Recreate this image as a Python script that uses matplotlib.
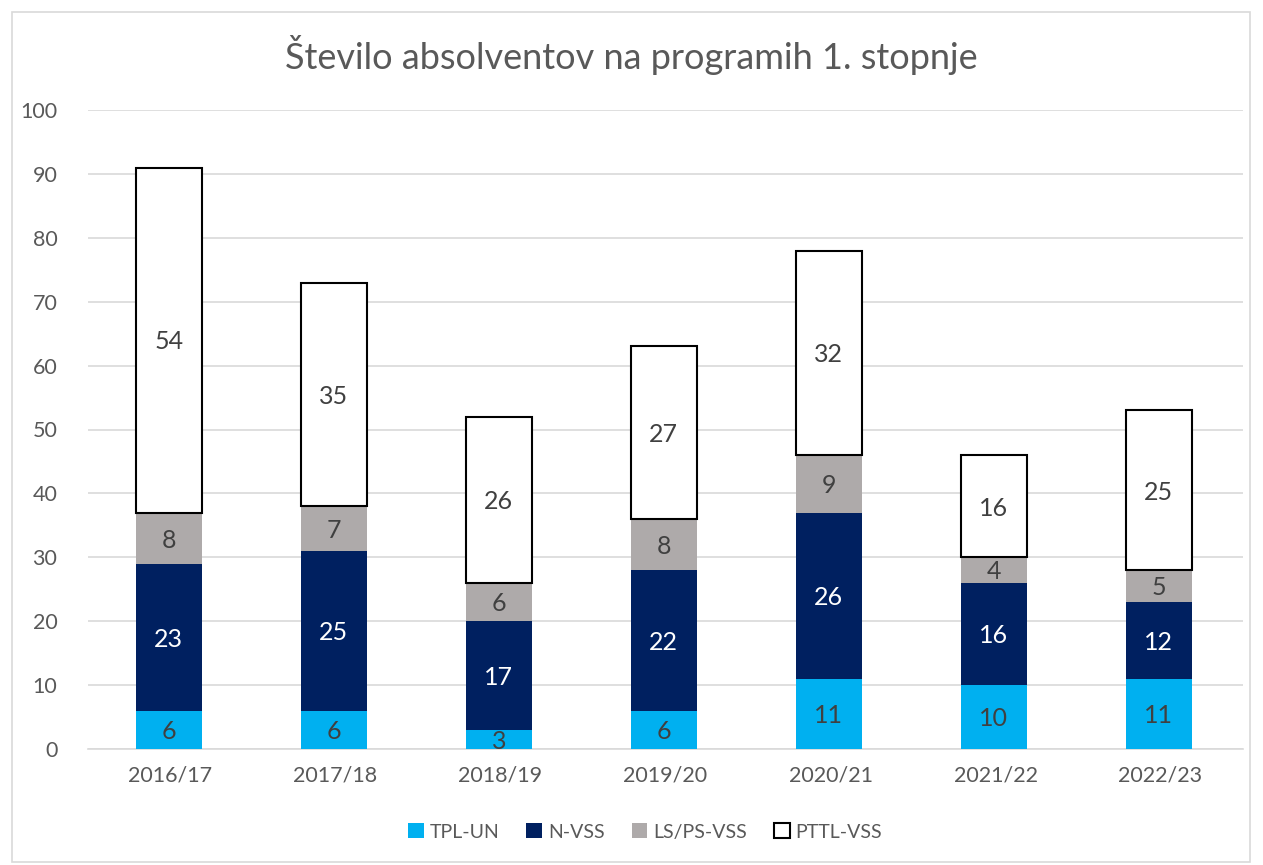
import matplotlib
matplotlib.use("Agg")
import matplotlib.pyplot as plt
from matplotlib.patches import Rectangle, Patch

categories = ["2016/17", "2017/18", "2018/19", "2019/20", "2020/21", "2021/22", "2022/23"]
tpl_un = [6, 6, 3, 6, 11, 10, 11]
n_vss = [23, 25, 17, 22, 26, 16, 12]
ls_ps_vss = [8, 7, 6, 8, 9, 4, 5]
pttl_vss = [54, 35, 26, 27, 32, 16, 25]
series_names = ["TPL-UN", "N-VSS", "LS/PS-VSS", "PTTL-VSS"]

plt.rcParams['font.family'] = ['Lato', 'DejaVu Sans']

W, H = 1263, 865
fig = plt.figure(figsize=(W / 100, H / 100), dpi=100)
fig.patch.set_facecolor('white')
fig.add_artist(Rectangle((12 / W, 1 - 862 / H), (1250 - 12) / W, (862 - 12) / H,
                         transform=fig.transFigure, fill=False, edgecolor='#D9D9D9', lw=1.2))

ax = fig.add_axes([88 / W, 1 - 749 / H, (1243 - 88) / W, (749 - 110) / H])
x = list(range(len(categories)))
bw = 0.4
series = [tpl_un, n_vss, ls_ps_vss, pttl_vss]
colors = ['#00B0F0', '#002060', '#AEAAAA', 'white']
edges = ['none', 'none', 'none', 'black']
txtc = ['#404040', 'white', '#404040', '#404040']
bottom = [0] * len(categories)
for s, c, e, tc, name in zip(series, colors, edges, txtc, series_names):
    ax.bar([xi - 0.01 for xi in x], s, bw, bottom=bottom, color=c, edgecolor=e,
           linewidth=1.5 if e != 'none' else 0, label=name, zorder=3)
    for xi, b, v in zip(x, bottom, s):
        ax.text(xi - 0.01, b + v / 2 - 0.3, str(v), ha='center', va='center', fontsize=18,
                color=tc, zorder=4)
    bottom = [b + v for b, v in zip(bottom, s)]

ax.set_xlim(-0.5, 6.5)
ax.set_ylim(0, 100)
ax.set_yticks(range(0, 101, 10))
ax.set_xticks(x)
ax.set_xticklabels(categories)
ax.tick_params(axis='both', length=0, labelsize=15.5, colors='#595959')
ax.tick_params(axis='y', pad=22)
ax.tick_params(axis='x', pad=12)
ax.grid(axis='y', color='#D9D9D9', lw=1.2, zorder=0)
for sp in ['top', 'right', 'left']:
    ax.spines[sp].set_visible(False)
ax.spines['bottom'].set_color('#D9D9D9')
ax.spines['bottom'].set_linewidth(1.2)

fig.text(0.5, 1 - 55 / H, "Število absolventov na programih 1. stopnje", ha='center', va='center',
         fontsize=26, color='#595959')

handles = [Patch(facecolor=c, edgecolor=('black' if e == 'black' else c), lw=1.5 if e == 'black' else 0)
           for c, e in zip(colors, edges)]
fig.legend(handles, series_names, loc='center', bbox_to_anchor=(645 / W, 1 - 832 / H), ncol=4,
           frameon=False, fontsize=14, labelcolor='#595959', handlelength=0.8, handleheight=0.8,
           handletextpad=0.3, columnspacing=1.4)

fig.savefig("out.png", dpi=100)
